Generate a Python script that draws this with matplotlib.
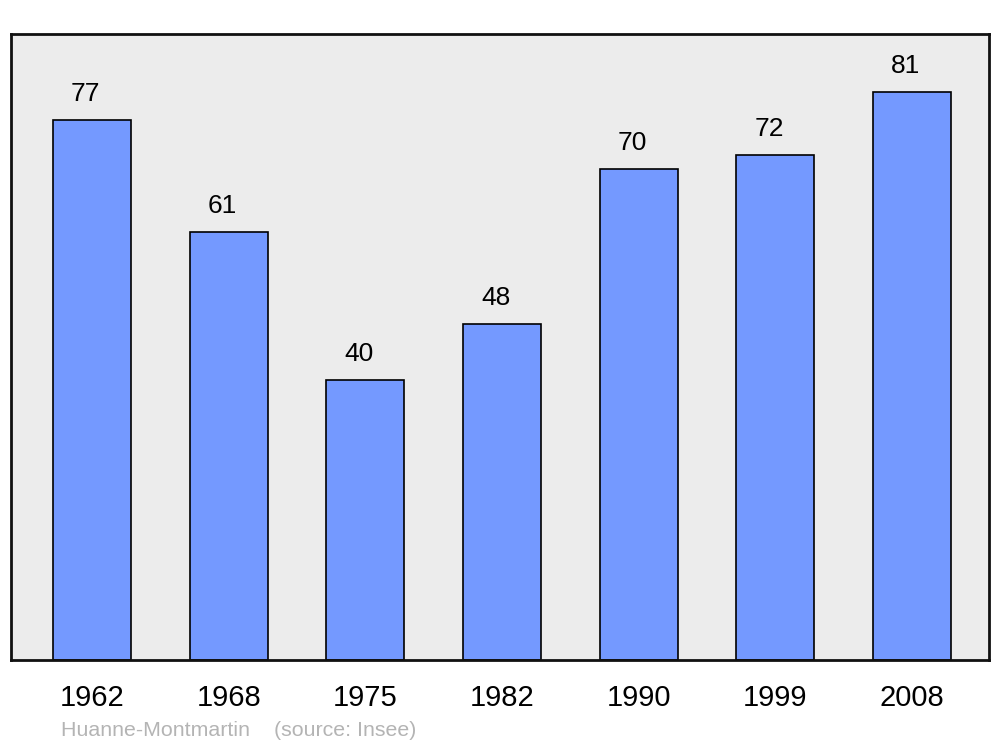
import matplotlib
matplotlib.use("Agg")
import matplotlib.pyplot as plt
from matplotlib.transforms import offset_copy

plt.rcParams.update({"font.family": ["Liberation Sans", "DejaVu Sans"]})

years = ["1962", "1968", "1975", "1982", "1990", "1999", "2008"]
population = [77, 61, 40, 48, 70, 72, 81]

fig = plt.figure(figsize=(10, 7.47), dpi=100)
ax = fig.add_axes([0.011, 87 / 747, 0.978, 626 / 747])
ax.set_facecolor("#ececec")

x = range(len(years))
ax.bar(x, population, width=0.57, color="#7499ff", edgecolor="black", linewidth=1.2)

ax.set_xlim(-0.593, 6.563)
ax.set_ylim(0, 89.3)
ax.set_yticks([])
ax.set_xticks(list(x))
ax.set_xticklabels(years, fontsize=21)
ax.tick_params(axis="x", length=0, pad=17)
for s in ax.spines.values():
    s.set_linewidth(2)
    s.set_color("#111111")

lab_tr = offset_copy(ax.transData, fig=fig, x=-6.5, y=26, units="dots")
for i, v in enumerate(population):
    ax.text(i, v, str(v), transform=lab_tr, ha="center", va="center", fontsize=19)

fig.text(61 / 1000, 1 - 731 / 747, "Huanne-Montmartin    (source: Insee)",
         ha="left", va="center", fontsize=15.4, color="#b4b4b4")

fig.savefig("out.png", dpi=100, facecolor="white")
